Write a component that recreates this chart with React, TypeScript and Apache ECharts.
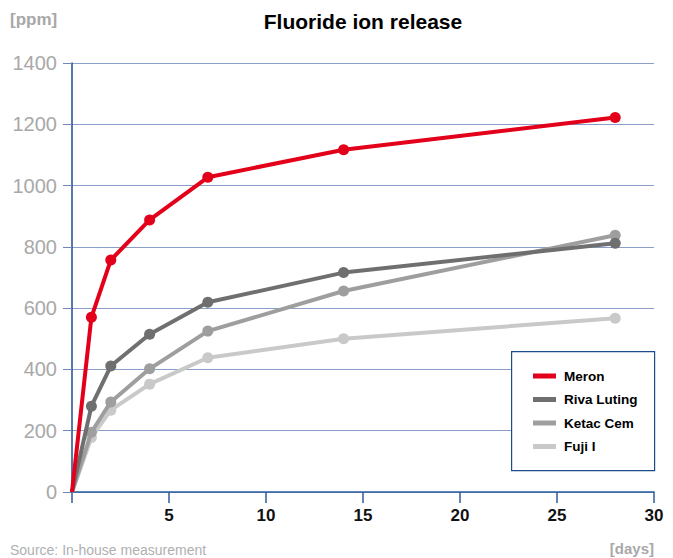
import React, { useEffect, useRef } from "react";
import * as echarts from "echarts";

const days = [0, 1, 2, 4, 7, 14, 28];
const seriesNames = ["Meron", "Riva Luting", "Ketac Cem", "Fuji I"];
const meron = [0, 570, 757, 888, 1027, 1117, 1222];
const rivaLuting = [0, 280, 411, 515, 619, 716, 812];
const ketacCem = [0, 195, 294, 402, 525, 656, 838];
const fujiI = [0, 178, 267, 352, 438, 500, 567];
const seriesColors = ["#e2001a", "#6f6f6f", "#9e9e9e", "#c9c9c9"];

const allValues = [meron, rivaLuting, ketacCem, fujiI];

export default function App() {
  const ref = useRef<HTMLDivElement>(null);
  useEffect(() => {
    if (!ref.current) return;
    const chart = echarts.init(ref.current, undefined, { renderer: "svg" });
    const font = "'Liberation Sans', Arial, sans-serif";
    chart.setOption({
      animation: false,
      textStyle: { fontFamily: font },
      title: {
        text: "Fluoride ion release",
        left: 358,
        textAlign: "center",
        top: 6,
        textStyle: { fontSize: 21, fontWeight: "bold", color: "#000", fontFamily: font },
      },
      grid: { left: 72, right: 19, top: 63, bottom: 66, containLabel: false },
      xAxis: {
        type: "value",
        min: 0,
        max: 30,
        interval: 5,
        axisLine: { show: true, lineStyle: { color: "#2b5d9e", width: 1.5 } },
        axisTick: { show: true, inside: false, length: 11, lineStyle: { color: "#2b5d9e", width: 1.5 } },
        splitLine: { show: false },
        axisLabel: {
          margin: 15,
          fontSize: 17,
          fontWeight: "bold",
          color: "#111",
          fontFamily: font,
          formatter: (v: number) => (v === 0 ? "" : String(v)),
        },
      },
      yAxis: {
        type: "value",
        min: 0,
        max: 1400,
        interval: 200,
        axisLine: { show: true, lineStyle: { color: "#1d4c8c", width: 1.5 } },
        axisTick: { show: true, length: 9, lineStyle: { color: "#6f86b8", width: 1 } },
        splitLine: { show: true, lineStyle: { color: "#8b9ec8", width: 1 } },
        axisLabel: {
          margin: 15,
          fontSize: 20,
          color: "#a8a8a8",
          fontFamily: font,
          formatter: (v: number) => String(v),
        },
      },
      legend: {
        orient: "vertical",
        left: 528,
        top: 364,
        itemWidth: 23,
        itemHeight: 5,
        itemGap: 9.5,
        icon: "rect",
        data: seriesNames,
        textStyle: {
          fontSize: 13.5,
          fontWeight: "bold",
          color: "#000",
          fontFamily: font,
          padding: [0, 0, 0, 3],
        },
        z: 10,
      },
      graphic: [
        {
          type: "rect",
          left: 511,
          top: 351,
          shape: { width: 143, height: 119 },
          style: { fill: "#fff", stroke: "#1d4c8c", lineWidth: 1.2 },
          z: 5,
        },
        {
          type: "text",
          left: 10,
          top: 11,
          style: { text: "[ppm]", fontSize: 17, fontWeight: "bold", fill: "#a8a8a8", fontFamily: font },
        },
        {
          type: "text",
          left: 10,
          top: 543,
          style: { text: "Source: In-house measurement", fontSize: 14, fill: "#b0b0b0", fontFamily: font },
        },
        {
          type: "text",
          right: 19,
          top: 541,
          style: { text: "[days]", fontSize: 15, fontWeight: "bold", fill: "#a8a8a8", fontFamily: font },
        },
      ],
      series: seriesNames.map((name, i) => ({
        name,
        type: "line",
        data: days.map((d, j) =>
          j === 0 ? { value: [d, allValues[i][j]], symbol: "none" } : [d, allValues[i][j]]
        ),
        color: seriesColors[i],
        lineStyle: { width: 4, color: seriesColors[i] },
        itemStyle: { color: seriesColors[i] },
        symbol: "circle",
        symbolSize: 11,
        showSymbol: true,
        z: 2 + (seriesNames.length - i),
      })),
    });
    return () => chart.dispose();
  }, []);
  return (
    <div
      ref={ref}
      style={{ position: "absolute", left: 0, top: 0, width: 673, height: 558 }}
    />
  );
}
